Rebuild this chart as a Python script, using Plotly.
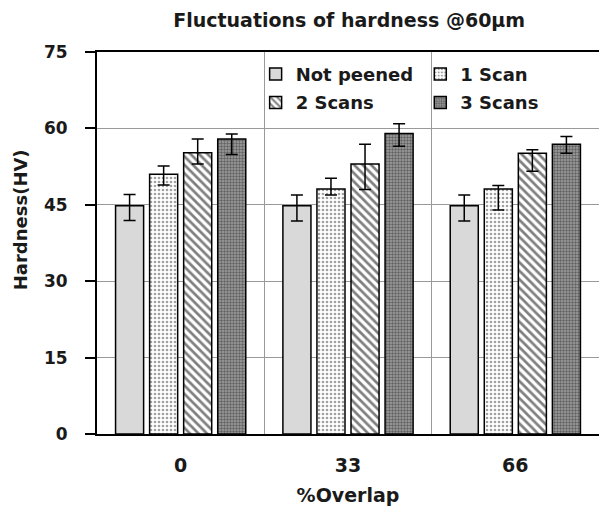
import plotly.graph_objects as go

# Hardness readings at 60 µm depth for each overlap level
overlap = ["0", "33", "66"]
series = ["Not peened", "1 Scan", "2 Scans", "3 Scans"]

not_peened = [44.8, 44.8, 44.8]
not_peened_up = [2.2, 2.1, 2.1]
not_peened_down = [2.9, 3.0, 3.0]

one_scan = [51.0, 48.1, 48.1]
one_scan_up = [1.6, 2.1, 0.7]
one_scan_down = [2.1, 1.2, 4.1]

two_scans = [55.2, 53.0, 55.1]
two_scans_up = [2.7, 3.9, 0.7]
two_scans_down = [2.2, 5.0, 3.5]

three_scans = [57.9, 59.0, 56.9]
three_scans_up = [1.0, 1.9, 1.5]
three_scans_down = [3.0, 2.5, 1.8]

y_ticks = [0, 15, 30, 45, 60, 75]

FONT = "DejaVu Sans"
INK = "#1a1a1a"

values = [not_peened, one_scan, two_scans, three_scans]
ups = [not_peened_up, one_scan_up, two_scans_up, three_scans_up]
downs = [not_peened_down, one_scan_down, two_scans_down, three_scans_down]

patterns = [
    dict(shape="", bgcolor="#d9d9d9"),
    dict(shape=".", fgcolor="#444444", bgcolor="#ffffff", size=4, solidity=0.35),
    dict(shape="\\", fgcolor="#000000", bgcolor="#ffffff", size=6, solidity=0.45),
    dict(shape=".", fgcolor="#222222", bgcolor="#a0a0a0", size=3, solidity=0.5),
]
fills = ["#d9d9d9", "#ffffff", "#ffffff", "#a0a0a0"]
legend_ids = ["legend", "legend2", "legend", "legend2"]

fig = go.Figure()
for name, vals, up, down, pat, fill, lg in zip(series, values, ups, downs,
                                               patterns, fills, legend_ids):
    fig.add_trace(go.Bar(
        name=name,
        x=overlap,
        y=vals,
        legend=lg,
        legendgroup=name,
        marker=dict(color=fill, pattern=pat,
                    line=dict(color="#000000", width=1.5)),
        error_y=dict(type="data", symmetric=False, array=up, arrayminus=down,
                     color="#000000", thickness=1.5, width=6),
    ))

legend_style = dict(
    font=dict(family=FONT, size=18, color=INK, weight="bold"),
    bgcolor="rgba(0,0,0,0)",
    borderwidth=0,
    tracegroupgap=2,
    xanchor="left",
    yanchor="top",
    itemwidth=30,
)

fig.update_layout(
    width=600,
    height=510,
    margin=dict(l=97, r=1, t=52, b=76),
    paper_bgcolor="#ffffff",
    plot_bgcolor="#ffffff",
    barmode="group",
    bargap=0.186,
    bargroupgap=0.176,
    title=dict(
        text="Fluctuations of hardness @60µm",
        font=dict(family=FONT, size=19, color=INK, weight="bold"),
        x=0.582, xanchor="center", y=0.960, yanchor="middle",
    ),
    legend=dict(x=0.316, y=0.99, **legend_style),
    legend2=dict(x=0.644, y=0.99, **legend_style),
    xaxis=dict(
        type="category",
        tickson="boundaries",
        showgrid=True,
        gridcolor="#9a9a9a",
        gridwidth=1,
        showline=True,
        linecolor="#000000",
        linewidth=2,
        mirror=True,
        ticks="",
        ticklabelstandoff=13,
        tickfont=dict(family=FONT, size=19, color=INK, weight="bold"),
        title=dict(text="%Overlap", standoff=14,
                   font=dict(family=FONT, size=19, color=INK, weight="bold")),
    ),
    yaxis=dict(
        range=[0, 75],
        tickvals=y_ticks,
        showgrid=True,
        gridcolor="#9a9a9a",
        gridwidth=1,
        showline=True,
        linecolor="#000000",
        linewidth=2,
        ticks="outside",
        ticklen=10,
        tickwidth=2,
        tickcolor="#000000",
        ticklabelstandoff=14,
        zeroline=False,
        tickfont=dict(family=FONT, size=17, color=INK, weight="bold"),
    ),
    annotations=[dict(
        text="Hardness(HV)",
        xref="paper", yref="paper",
        x=-0.153, y=0.56, xanchor="center", yanchor="middle",
        textangle=-90, showarrow=False,
        font=dict(family=FONT, size=18, color=INK, weight="bold"),
    )],
)

fig.write_html("out.html")
